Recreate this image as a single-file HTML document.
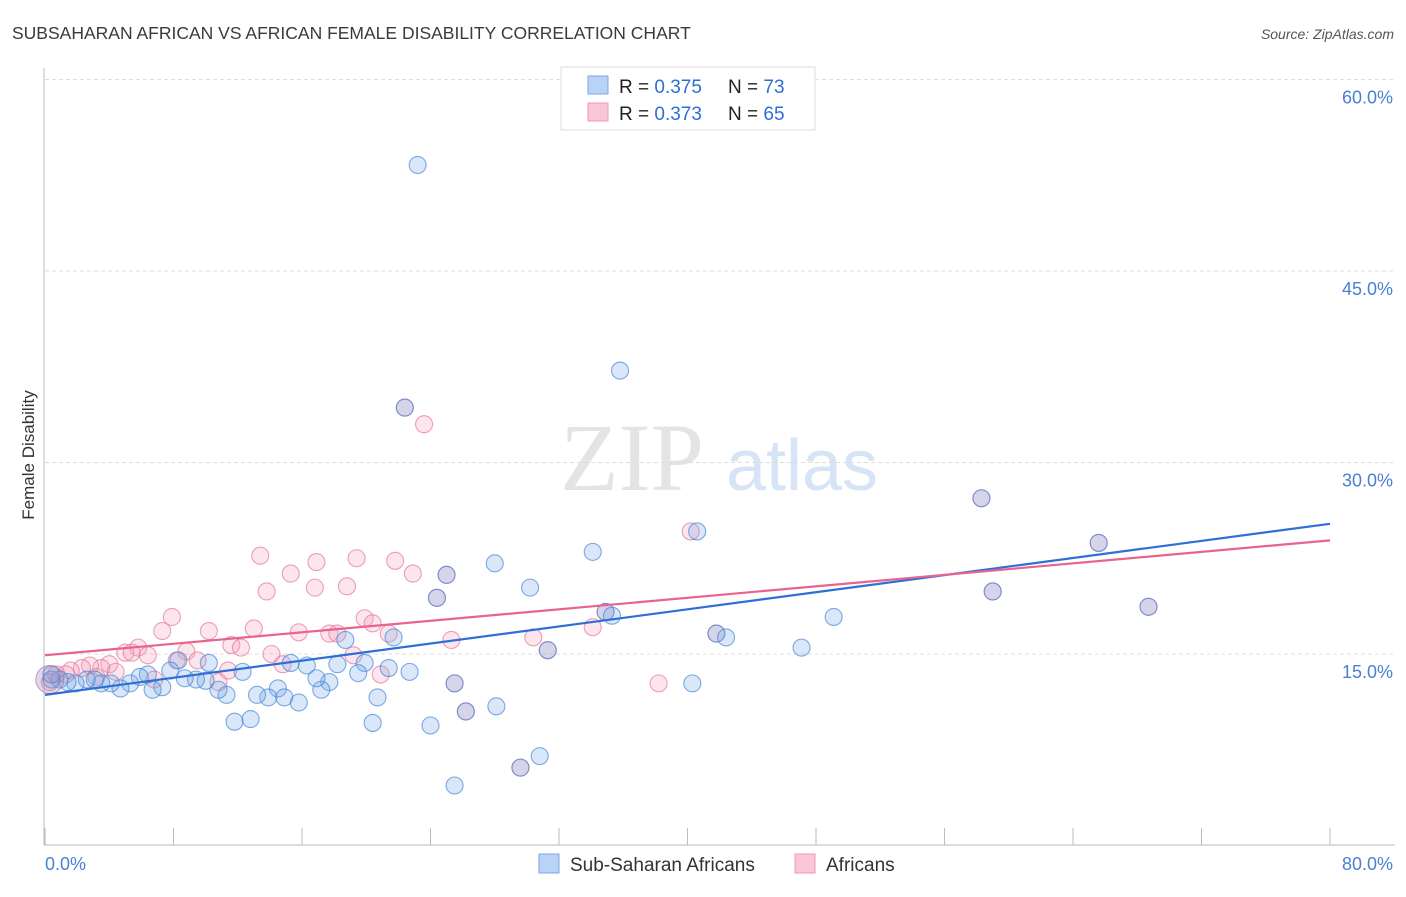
<!DOCTYPE html>
<html><head><meta charset="utf-8"><style>
body{margin:0;background:#fff;font-family:"Liberation Sans",sans-serif;}
</style></head><body>
<svg width="1406" height="892" xmlns="http://www.w3.org/2000/svg">
<text x="12" y="39" font-size="17.5" fill="#3a3a3a">SUBSAHARAN AFRICAN VS AFRICAN FEMALE DISABILITY CORRELATION CHART</text>
<text x="1394" y="39" font-size="14" fill="#555" text-anchor="end" font-style="italic">Source: ZipAtlas.com</text>
<text x="632" y="490" font-size="96" fill="#e4e4e4" font-family="Liberation Serif" text-anchor="middle">ZIP</text>
<text x="802" y="490" font-size="72" fill="#d6e4f5" text-anchor="middle">atlas</text>
<g id="grid"></g>
<g id="axes"></g>
<g id="pts"></g>
<g id="lines"></g>
<text transform="translate(34,455) rotate(-90)" font-size="17" fill="#333" text-anchor="middle">Female Disability</text>
<g>
<rect x="561" y="67" width="254" height="63" fill="#fff" stroke="#ddd"/>
<rect x="588" y="76" width="20" height="18" fill="#b8d3f5" stroke="#7aa9e6"/>
<rect x="588" y="103" width="20" height="18" fill="#f9c6d5" stroke="#ee99b5"/>
<text x="619" y="93" font-size="19" fill="#222">R = <tspan fill="#2d6fd6">0.375</tspan><tspan x="728">N = </tspan><tspan fill="#2d6fd6">73</tspan></text>
<text x="619" y="120" font-size="19" fill="#222">R = <tspan fill="#2d6fd6">0.373</tspan><tspan x="728">N = </tspan><tspan fill="#2d6fd6">65</tspan></text>
</g>
<g>
<rect x="539" y="854" width="20" height="19" fill="#b8d3f5" stroke="#7aa9e6"/>
<text x="570" y="871" font-size="19" fill="#333">Sub-Saharan Africans</text>
<rect x="795" y="854" width="20" height="19" fill="#f9c6d5" stroke="#ee99b5"/>
<text x="826" y="871" font-size="19" fill="#333">Africans</text>
</g>
</svg>
<script>
const blueX=[23.2,35.8,28.0,34.1,30.2,24.4,49.1,47.1,40.3,30.8,25.5,28.1,20.4,24.0,11.8,12.8,20.7,18.7,21.7,22.7,21.4,19.9,19.5,18.2,17.7,17.2,16.9,16.3,15.3,14.5,13.9,13.2,14.9,15.8,12.3,11.3,10.8,10.2,10.0,9.4,8.7,8.3,7.8,7.3,6.7,6.4,5.9,5.3,4.7,4.1,3.5,3.1,2.6,1.9,1.4,0.9,0.4,0.4,34.9,35.3,41.8,42.4,31.3,25.5,26.2,29.6,25.0,22.4,40.6,58.3,59.0,65.6,68.7];
const blueY=[53.3,37.2,22.1,23.0,20.2,19.4,17.9,15.5,12.7,7.0,4.7,10.9,9.6,9.4,9.7,9.9,11.6,16.1,16.3,13.6,13.9,14.3,13.5,14.2,12.8,12.2,13.1,14.1,14.3,12.3,11.6,11.8,11.6,11.2,13.6,11.8,12.2,14.3,12.9,13.0,13.1,14.5,13.7,12.4,12.2,13.4,13.2,12.7,12.3,12.7,12.7,13.0,13.0,12.7,12.8,13.0,13.0,13.4,18.3,18.0,16.6,16.3,15.3,12.7,10.5,6.1,21.2,34.3,24.6,27.2,19.9,23.7,18.7];
const pinkX=[13.4,16.9,19.4,21.8,22.9,15.3,13.8,16.8,18.8,7.9,7.3,10.2,13.0,11.6,12.2,15.8,17.7,18.2,19.9,20.4,21.4,25.3,30.4,34.1,23.6,38.2,8.8,8.2,9.5,5.8,5.0,5.4,4.0,3.5,2.8,2.3,1.6,1.3,0.7,0.3,6.4,6.8,10.8,11.4,14.1,14.8,20.9,19.2,3.2,4.4,40.2,24.4,25.0,25.5,29.6,26.2,31.3,41.8,58.3,65.6,68.7,59.0,22.4,34.9];
const pinkY=[22.7,22.2,22.5,22.3,21.3,21.3,19.9,20.2,20.3,17.9,16.8,16.8,17.0,15.7,15.5,16.7,16.6,16.6,17.8,17.4,16.6,16.1,16.3,17.1,33.0,12.7,15.2,14.5,14.5,15.5,15.1,15.1,14.2,13.9,14.1,13.9,13.7,13.4,13.4,12.8,14.9,13.0,12.8,13.7,15.0,14.2,13.4,14.9,13.2,13.6,24.6,19.4,21.2,12.7,6.1,10.5,15.3,16.6,27.2,23.7,18.7,19.9,34.3,18.3];
const trendBlue=[11.8,25.2]; // y at x=0 and x=80
const trendPink=[14.9,23.9];
const yTicks=[15,30,45,60];
const xTicks=[0,8,16,24,32,40,48,56,64,72,80];
const NS="http://www.w3.org/2000/svg";
const sx=v=>45+v*1285/80, sy=v=>845.5-v*191.5/15;
function mk(tag,attrs,parent){const e=document.createElementNS(NS,tag);for(const k in attrs)e.setAttribute(k,attrs[k]);document.getElementById(parent).appendChild(e);return e;}
yTicks.forEach(t=>{
  const l=mk('line',{x1:45,x2:1395,y1:sy(t),y2:sy(t),stroke:'#ddd','stroke-dasharray':'4,3'},'grid');
  
  
  const tx=mk('text',{x:1393,y:sy(t)+24,'font-size':18,fill:'#4a7fd6','text-anchor':'end'},'grid');
  tx.textContent=t.toFixed(1)+'%';
  
  
});
const ax=mk('line',{x1:44,x2:44,y1:68,y2:845,stroke:'#bbb'},'axes');


const bx=mk('line',{x1:44,x2:1395,y1:845,y2:845,stroke:'#bbb'},'axes');


xTicks.forEach(t=>{
  const l=mk('line',{x1:sx(t),x2:sx(t),y1:828,y2:845,stroke:'#bbb'},'axes');
  
  
});
[[0,'start'],[80,'end']].forEach(([t,a])=>{
  const tx=mk('text',{x:t===0?45:1393,y:870,'font-size':18,fill:'#4a7fd6','text-anchor':a},'axes');
  tx.textContent=t.toFixed(1)+'%';
  
  
});
function dots(X,Y,fill,stroke,name){X.forEach((x,i)=>{
  const c=mk('circle',{cx:sx(x),cy:sy(Y[i]),r:8.5,fill:fill,stroke:stroke,'stroke-width':1.1},'pts');
  
  
});}
dots(pinkX,pinkY,'rgba(244,160,185,0.28)','rgba(230,120,155,0.7)','point-africans');
dots(blueX,blueY,'rgba(120,170,230,0.28)','rgba(70,135,215,0.7)','point-sub-saharan');
const big=mk('circle',{cx:sx(0.3),cy:sy(13.0),r:14,fill:'rgba(160,130,180,0.3)',stroke:'rgba(170,120,165,0.7)'},'pts');


const lb=mk('line',{x1:sx(0),y1:sy(trendBlue[0]),x2:sx(80),y2:sy(trendBlue[1]),stroke:'#2d6fd6','stroke-width':2.2},'lines');


const lp=mk('line',{x1:sx(0),y1:sy(trendPink[0]),x2:sx(80),y2:sy(trendPink[1]),stroke:'#e8648f','stroke-width':2.2},'lines');


</script>
</body></html>
